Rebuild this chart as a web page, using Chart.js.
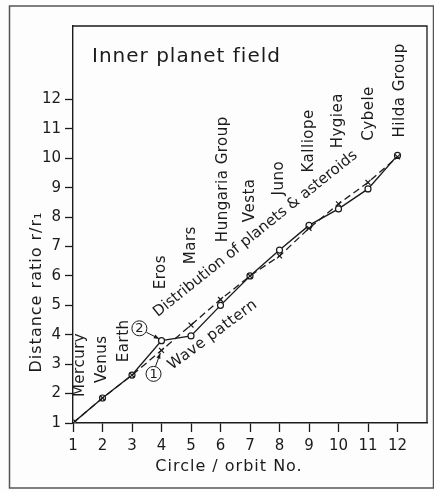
<!DOCTYPE html>
<html>
<head>
<meta charset="utf-8">
<script src="https://cdn.jsdelivr.net/npm/chart.js@4/dist/chart.umd.min.js"></script>
<style>
  html, body { margin: 0; padding: 0; background: #fdfdfd; }
</style>
</head>
<body>
<canvas id="chart" width="434" height="492"></canvas>
<script>
// circle / orbit number on the x axis
const orbitNo = [1, 2, 3, 4, 5, 6, 7, 8, 9, 10, 11, 12];
// (1) wave pattern, dashed line with crosses
const wavePattern = [1, 1.85, 2.63, 3.47, 4.33, 5.2, 6.0, 6.68, 7.62, 8.45, 9.18, 10.05];
// (2) distribution of planets & asteroids, solid line with circles
const distribution = [1, 1.85, 2.63, 3.8, 3.96, 5.0, 6.0, 6.88, 7.72, 8.28, 8.96, 10.1];
// bodies written above each orbit
const bodyNames = ['Mercury', 'Venus', 'Earth', 'Eros', 'Mars', 'Hungaria Group', 'Vesta', 'Juno', 'Kalliope', 'Hygiea', 'Cybele', 'Hilda Group'];
const nameX = [1.24, 1.97, 2.73, 3.98, 5.0, 6.08, 7.0, 7.98, 9.0, 10.0, 11.03, 12.1];
const nameY = [1.88, 2.36, 3.07, 5.55, 6.4, 7.15, 7.83, 8.74, 9.52, 10.34, 10.6, 10.71];
const xTicks = [1, 2, 3, 4, 5, 6, 7, 8, 9, 10, 11, 12];
const yTicks = [1, 2, 3, 4, 5, 6, 7, 8, 9, 10, 11, 12];

const ink = '#1b1b1b';
const font = 'DejaVu Sans';
Chart.defaults.font.family = font;
Chart.defaults.color = ink;

const toPoints = (values) => values.map((v, i) => ({ x: orbitNo[i], y: v }));

function arrow(ctx, x0, y0, x1, y1) {
    const ang = Math.atan2(y1 - y0, x1 - x0);
    ctx.beginPath();
    ctx.moveTo(x0, y0);
    ctx.lineTo(x1, y1);
    ctx.stroke();
    ctx.beginPath();
    ctx.moveTo(x1, y1);
    ctx.lineTo(x1 - 6 * Math.cos(ang - 0.35), y1 - 6 * Math.sin(ang - 0.35));
    ctx.lineTo(x1 - 6 * Math.cos(ang + 0.35), y1 - 6 * Math.sin(ang + 0.35));
    ctx.closePath();
    ctx.fill();
}

function circled(ctx, cx, cy, label) {
    ctx.beginPath();
    ctx.arc(cx, cy, 7.5, 0, Math.PI * 2);
    ctx.stroke();
    ctx.font = '13px ' + font;
    ctx.textAlign = 'center';
    ctx.textBaseline = 'middle';
    ctx.fillText(label, cx, cy + 0.5);
}

function rotatedText(ctx, text, px, py, angle, align, baseline) {
    ctx.save();
    ctx.translate(px, py);
    ctx.rotate(angle);
    ctx.textAlign = align;
    ctx.textBaseline = baseline;
    ctx.fillText(text, 0, 0);
    ctx.restore();
}

const overlay = {
    id: 'overlay',
    afterDraw(chart) {
        const { ctx, chartArea: a } = chart;
        const x = chart.scales.x;
        const y = chart.scales.y;
        ctx.save();
        ctx.strokeStyle = ink;
        ctx.fillStyle = ink;

        // top and right of the plot box
        ctx.lineWidth = 1.3;
        ctx.beginPath();
        ctx.moveTo(a.left, a.top);
        ctx.lineTo(a.right, a.top);
        ctx.lineTo(a.right, a.bottom);
        ctx.stroke();

        // outer frame
        ctx.strokeStyle = '#555';
        ctx.lineWidth = 1.5;
        ctx.strokeRect(9.5, 6, 424, 482);
        ctx.strokeStyle = ink;

        // title inside the box
        ctx.letterSpacing = '1px';
        ctx.font = '20px ' + font;
        ctx.textAlign = 'left';
        ctx.textBaseline = 'alphabetic';
        ctx.fillText('Inner planet field', 92, 62);

        // axis titles
        ctx.font = '16px ' + font;
        ctx.textAlign = 'center';
        ctx.fillText('Circle / orbit No.', 229, 471);
        rotatedText(ctx, 'Distance ratio r/r\u2081', 41, 292, -Math.PI / 2, 'center', 'alphabetic');

        // body names
        ctx.letterSpacing = '0.5px';
        ctx.font = '15px ' + font;
        bodyNames.forEach((name, i) => {
            rotatedText(ctx, name, x.getPixelForValue(nameX[i]), y.getPixelForValue(nameY[i]), -Math.PI / 2, 'left', 'middle');
        });

        // curve labels
        rotatedText(ctx, 'Wave pattern', x.getPixelForValue(4.36), y.getPixelForValue(2.8), -0.64, 'left', 'alphabetic');
        ctx.letterSpacing = '0px';
        rotatedText(ctx, 'Distribution of planets & asteroids', x.getPixelForValue(3.87), y.getPixelForValue(4.6), -0.675, 'left', 'alphabetic');

        ctx.lineWidth = 1;

        // circled markers with arrows
        const c2x = x.getPixelForValue(3.25);
        const c2y = y.getPixelForValue(4.22);
        circled(ctx, c2x, c2y, '2');
        arrow(ctx, c2x + 7, c2y + 4, x.getPixelForValue(3.93), y.getPixelForValue(3.86));

        const c1x = x.getPixelForValue(3.73);
        const c1y = y.getPixelForValue(2.67);
        circled(ctx, c1x, c1y, '1');
        arrow(ctx, c1x + 2, c1y - 7.5, x.getPixelForValue(3.96), y.getPixelForValue(3.38));

        ctx.restore();
    },
};

new Chart(document.getElementById('chart'), {
    type: 'line',
    data: {
        datasets: [
            {
                label: 'Wave pattern',
                data: toPoints(wavePattern),
                borderColor: ink,
                borderWidth: 1.3,
                borderDash: [7, 4],
                pointStyle: 'crossRot',
                pointRadius: 3.5,
                pointBorderColor: ink,
                pointBorderWidth: 1.2,
                fill: false,
                tension: 0,
            },
            {
                label: 'Distribution of planets & asteroids',
                data: toPoints(distribution),
                borderColor: ink,
                borderWidth: 1.4,
                pointStyle: 'circle',
                pointRadius: 3,
                pointBackgroundColor: '#fdfdfd',
                pointBorderColor: ink,
                pointBorderWidth: 1.2,
                fill: false,
                tension: 0,
            },
        ],
    },
    options: {
        responsive: false,
        animation: false,
        layout: {
            padding: { top: 26, right: 7, left: 0, bottom: 0 },
        },
        plugins: {
            legend: { display: false },
            tooltip: { enabled: false },
        },
        scales: {
            x: {
                type: 'linear',
                min: 1,
                max: 13,
                afterBuildTicks: (scale) => {
                    scale.ticks = xTicks.map((v) => ({ value: v }));
                },
                afterFit: (scale) => {
                    scale.height = 69;
                },
                ticks: {
                    font: { size: 15 },
                    padding: 5,
                    maxRotation: 0,
                    autoSkip: false,
                },
                grid: {
                    drawOnChartArea: false,
                    tickLength: 9,
                    tickWidth: 1.3,
                    color: ink,
                },
                border: { display: true, color: ink, width: 1.4 },
            },
            y: {
                type: 'linear',
                min: 1,
                max: 14.5,
                afterBuildTicks: (scale) => {
                    scale.ticks = yTicks.map((v) => ({ value: v }));
                },
                afterFit: (scale) => {
                    scale.width = 73;
                },
                ticks: {
                    font: { size: 15 },
                    padding: 4,
                    autoSkip: false,
                },
                grid: {
                    drawOnChartArea: false,
                    tickLength: 8,
                    tickWidth: 1.3,
                    color: ink,
                },
                border: { display: true, color: ink, width: 1.4 },
            },
        },
    },
    plugins: [overlay],
});
</script>
</body>
</html>
